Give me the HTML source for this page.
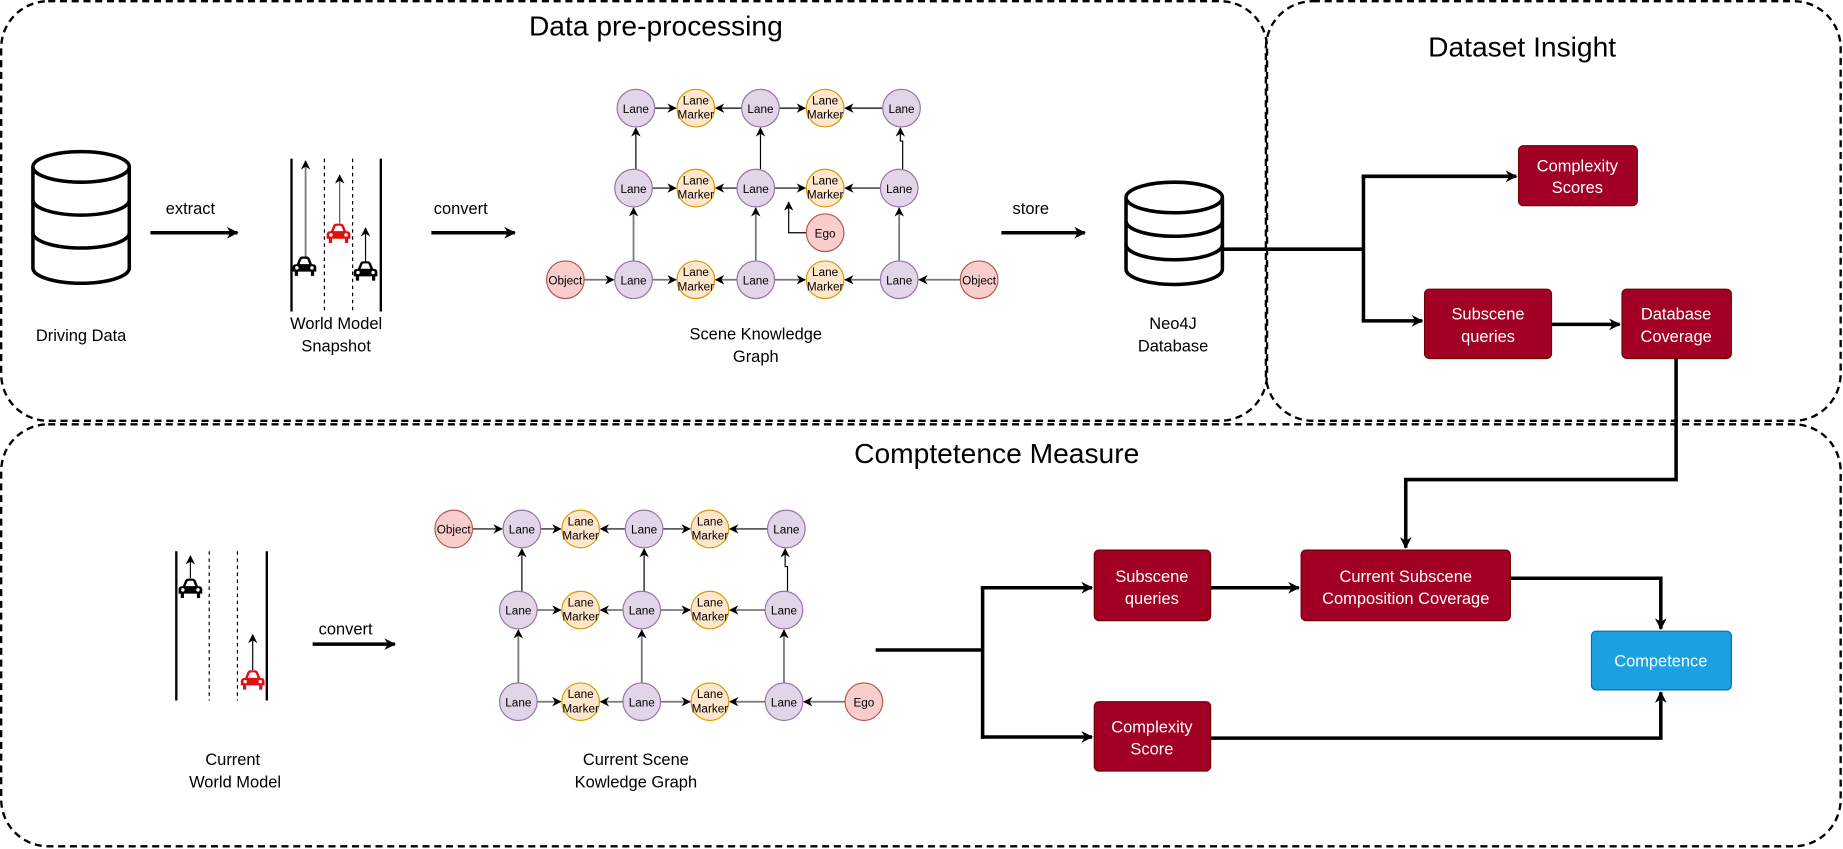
<!DOCTYPE html>
<html><head><meta charset="utf-8"><style>
html,body{margin:0;padding:0;background:#fff;}
svg{display:block;font-family:"Liberation Sans",Arial,sans-serif;}
</style></head><body>
<svg width="1843" height="849" viewBox="0 0 1568 722.3" xmlns="http://www.w3.org/2000/svg">
<defs>
<marker id="ab" viewBox="0 0 10 10" refX="9" refY="5" markerWidth="8" markerHeight="8" orient="auto" markerUnits="userSpaceOnUse"><path d="M0,0 L10,5 L0,10 L3,5 z" fill="#000"/></marker>
<marker id="as" viewBox="0 0 10 10" refX="9" refY="5" markerWidth="10" markerHeight="10" orient="auto" markerUnits="userSpaceOnUse"><path d="M0,0 L10,5 L0,10 L3,5 z" fill="#000"/></marker>
<symbol id="car" viewBox="0 0 24 20"><path d="M5,8 L7,3 Q8,1 10,1 L14,1 Q16,1 17,3 L19,8 Q23,8 23,11 L23,15 L21,15 L21,19 L18,19 L18,15 L6,15 L6,19 L3,19 L3,15 L1,15 L1,11 Q1,8 5,8 Z M7.5,8 L16.5,8 L15,4 Q14.5,3 13.5,3 L10.5,3 Q9.5,3 9,4 Z"/><circle cx="5" cy="11.5" r="1.6" fill="#fff"/><circle cx="19" cy="11.5" r="1.6" fill="#fff"/></symbol>
</defs>

<g fill="none" stroke="#000" stroke-width="2" stroke-dasharray="6,4">
<rect x="1" y="1" width="1077" height="357" rx="40"/>
<rect x="1077" y="1" width="489" height="357" rx="40"/>
<rect x="1" y="361" width="1565" height="359" rx="40"/>
</g>
<g font-size="24" text-anchor="middle" fill="#000">
<text x="558" y="30">Data pre-processing</text>
<text x="1295" y="48">Dataset Insight</text>
<text x="848" y="394">Comptetence Measure</text>
</g>

<g fill="#fff" stroke="#000" stroke-width="3">
<path d="M28,142 L28,228 A41,13 0 0 0 110,228 L110,142"/>
<ellipse cx="69" cy="142" rx="41" ry="13"/>
<path d="M28,170 A41,13 0 0 0 110,170 M28,198 A41,13 0 0 0 110,198" fill="none"/>
<path d="M958,168 L958,229 A41,13 0 0 0 1040,229 L1040,168"/>
<ellipse cx="999" cy="168" rx="41" ry="13"/>
<path d="M958,188 A41,13 0 0 0 1040,188 M958,208 A41,13 0 0 0 1040,208" fill="none"/>
</g>
<g font-size="14" text-anchor="middle">
<text x="69" y="290">Driving Data</text>
<text x="286" y="280">World Model</text><text x="286" y="299">Snapshot</text>
<text x="643" y="289">Scene Knowledge</text><text x="643" y="308">Graph</text>
<text x="998" y="280">Neo4J</text><text x="998" y="299">Database</text>
<text x="198" y="651">Current</text><text x="200" y="670">World Model</text>
<text x="541" y="651">Current Scene</text><text x="541" y="670">Kowledge Graph</text>
<text x="162" y="182">extract</text>
<text x="392" y="182">convert</text>
<text x="877" y="182">store</text>
<text x="294" y="540">convert</text>
</g>
<g stroke="#000" stroke-width="3" fill="none">
<line x1="128" y1="198" x2="202" y2="198" marker-end="url(#as)"/>
<line x1="367" y1="198" x2="438" y2="198" marker-end="url(#as)"/>
<line x1="852" y1="198" x2="923" y2="198" marker-end="url(#as)"/>
<line x1="266" y1="548" x2="336" y2="548" marker-end="url(#as)"/>
</g>

<g stroke="#000">
<line x1="248" y1="135" x2="248" y2="265" stroke-width="2"/>
<line x1="324" y1="135" x2="324" y2="265" stroke-width="2"/>
<line x1="276" y1="135" x2="276" y2="265" stroke-dasharray="3,3"/>
<line x1="300" y1="135" x2="300" y2="265" stroke-dasharray="3,3"/>
<line x1="260" y1="220" x2="260" y2="137" stroke="#777" stroke-width="1.5" marker-end="url(#ab)"/>
<line x1="289" y1="190" x2="289" y2="149" stroke="#555" marker-end="url(#ab)"/>
<line x1="311" y1="224" x2="311" y2="194" marker-end="url(#ab)"/>
<line x1="162" y1="492" x2="162" y2="473" marker-end="url(#ab)"/>
<line x1="215" y1="570" x2="215" y2="540" marker-end="url(#ab)"/>
<line x1="150" y1="469" x2="150" y2="596" stroke-width="2"/>
<line x1="227" y1="469" x2="227" y2="596" stroke-width="2"/>
<line x1="178" y1="469" x2="178" y2="596" stroke-dasharray="3,3"/>
<line x1="202" y1="469" x2="202" y2="596" stroke-dasharray="3,3"/>
</g>
<use href="#car" x="248" y="217" width="22" height="19" fill="#000"/>
<use href="#car" x="277" y="189" width="22" height="19" fill="#e01010"/>
<use href="#car" x="300" y="221" width="22" height="19" fill="#000"/>
<use href="#car" x="151" y="491" width="22" height="19" fill="#000"/>
<use href="#car" x="204" y="569" width="22" height="19" fill="#e01010"/>

<g stroke="#000" stroke-width="1" fill="none">
<line x1="557" y1="92" x2="575" y2="92" marker-end="url(#ab)"/>
<line x1="631" y1="92" x2="609" y2="92" marker-end="url(#ab)"/>
<line x1="663" y1="92" x2="685" y2="92" marker-end="url(#ab)"/>
<line x1="751" y1="92" x2="719" y2="92" marker-end="url(#ab)"/>
<line x1="555" y1="160" x2="575" y2="160" marker-end="url(#ab)"/>
<line x1="627" y1="160" x2="609" y2="160" marker-end="url(#ab)"/>
<line x1="659" y1="160" x2="685" y2="160" marker-end="url(#ab)"/>
<line x1="749" y1="160" x2="719" y2="160" marker-end="url(#ab)"/>
<line x1="541" y1="144" x2="541" y2="109" marker-end="url(#ab)"/>
<line x1="647" y1="144" x2="647" y2="109" marker-end="url(#ab)"/>
<polyline points="768,144 768,120 766,120 766,109" marker-end="url(#ab)"/>
<polyline points="686,198 671,198 671,172" marker-end="url(#ab)"/>
</g>
<g stroke="#777" stroke-width="1.5" fill="none">
<line x1="497" y1="238" x2="522" y2="238" marker-end="url(#ab)"/>
<line x1="555" y1="238" x2="575" y2="238" marker-end="url(#ab)"/>
<line x1="627" y1="238" x2="609" y2="238" marker-end="url(#ab)"/>
<line x1="659" y1="238" x2="685" y2="238" marker-end="url(#ab)"/>
<line x1="749" y1="238" x2="719" y2="238" marker-end="url(#ab)"/>
<line x1="817" y1="238" x2="782" y2="238" marker-end="url(#ab)"/>
<line x1="539" y1="222" x2="539" y2="177" marker-end="url(#ab)"/>
<line x1="643" y1="222" x2="643" y2="177" marker-end="url(#ab)"/>
<line x1="765" y1="222" x2="765" y2="177" marker-end="url(#ab)"/>
</g>

<g stroke="#000" stroke-width="1" fill="none">
<line x1="402" y1="450" x2="427" y2="450" marker-end="url(#ab)"/>
<line x1="460" y1="450" x2="477" y2="450" marker-end="url(#ab)"/>
<line x1="532" y1="450" x2="511" y2="450" marker-end="url(#ab)"/>
<line x1="564" y1="450" x2="587" y2="450" marker-end="url(#ab)"/>
<line x1="653" y1="450" x2="621" y2="450" marker-end="url(#ab)"/>
<line x1="444" y1="503" x2="444" y2="467" marker-end="url(#ab)"/>
<line x1="548" y1="503" x2="548" y2="467" marker-end="url(#ab)"/>
<polyline points="670,503 670,482 668,482 668,467" marker-end="url(#ab)"/>
</g>
<g stroke="#777" stroke-width="1.5" fill="none">
<line x1="457" y1="519" x2="477" y2="519" marker-end="url(#ab)"/>
<line x1="530" y1="519" x2="511" y2="519" marker-end="url(#ab)"/>
<line x1="562" y1="519" x2="587" y2="519" marker-end="url(#ab)"/>
<line x1="651" y1="519" x2="621" y2="519" marker-end="url(#ab)"/>
<line x1="457" y1="597" x2="477" y2="597" marker-end="url(#ab)"/>
<line x1="530" y1="597" x2="511" y2="597" marker-end="url(#ab)"/>
<line x1="562" y1="597" x2="587" y2="597" marker-end="url(#ab)"/>
<line x1="651" y1="597" x2="621" y2="597" marker-end="url(#ab)"/>
<line x1="719" y1="597" x2="684" y2="597" marker-end="url(#ab)"/>
<line x1="441" y1="581" x2="441" y2="536" marker-end="url(#ab)"/>
<line x1="546" y1="581" x2="546" y2="536" marker-end="url(#ab)"/>
<line x1="667" y1="581" x2="667" y2="536" marker-end="url(#ab)"/>
</g>

<g font-size="10" text-anchor="middle" stroke-width="1">
<g fill="#e1d5e7" stroke="#9673a6">
<circle cx="541" cy="92" r="16"/><circle cx="647" cy="92" r="16"/><circle cx="767" cy="92" r="16"/>
<circle cx="539" cy="160" r="16"/><circle cx="643" cy="160" r="16"/><circle cx="765" cy="160" r="16"/>
<circle cx="539" cy="238" r="16"/><circle cx="643" cy="238" r="16"/><circle cx="765" cy="238" r="16"/>
<circle cx="444" cy="450" r="16"/><circle cx="548" cy="450" r="16"/><circle cx="669" cy="450" r="16"/>
<circle cx="441" cy="519" r="16"/><circle cx="546" cy="519" r="16"/><circle cx="667" cy="519" r="16"/>
<circle cx="441" cy="597" r="16"/><circle cx="546" cy="597" r="16"/><circle cx="667" cy="597" r="16"/>
</g>
<g fill="#ffe6cc" stroke="#d79b00">
<circle cx="592" cy="92" r="16"/><circle cx="702" cy="92" r="16"/>
<circle cx="592" cy="160" r="16"/><circle cx="702" cy="160" r="16"/>
<circle cx="592" cy="238" r="16"/><circle cx="702" cy="238" r="16"/>
<circle cx="494" cy="450" r="16"/><circle cx="604" cy="450" r="16"/>
<circle cx="494" cy="519" r="16"/><circle cx="604" cy="519" r="16"/>
<circle cx="494" cy="597" r="16"/><circle cx="604" cy="597" r="16"/>
</g>
<g fill="#f8cecc" stroke="#b85450">
<circle cx="702" cy="198" r="16"/><circle cx="481" cy="238" r="16"/><circle cx="833" cy="238" r="16"/>
<circle cx="386" cy="450" r="16"/><circle cx="735" cy="597" r="16"/>
</g>
<g fill="#000">
<text x="541" y="96">Lane</text><text x="647" y="96">Lane</text><text x="767" y="96">Lane</text>
<text x="539" y="164">Lane</text><text x="643" y="164">Lane</text><text x="765" y="164">Lane</text>
<text x="539" y="242">Lane</text><text x="643" y="242">Lane</text><text x="765" y="242">Lane</text>
<text x="444" y="454">Lane</text><text x="548" y="454">Lane</text><text x="669" y="454">Lane</text>
<text x="441" y="523">Lane</text><text x="546" y="523">Lane</text><text x="667" y="523">Lane</text>
<text x="441" y="601">Lane</text><text x="546" y="601">Lane</text><text x="667" y="601">Lane</text>
<text x="702" y="202">Ego</text><text x="481" y="242">Object</text><text x="833" y="242">Object</text>
<text x="386" y="454">Object</text><text x="735" y="601">Ego</text>
<text x="592" y="89">Lane</text><text x="592" y="101">Marker</text>
<text x="702" y="89">Lane</text><text x="702" y="101">Marker</text>
<text x="592" y="157">Lane</text><text x="592" y="169">Marker</text>
<text x="702" y="157">Lane</text><text x="702" y="169">Marker</text>
<text x="592" y="235">Lane</text><text x="592" y="247">Marker</text>
<text x="702" y="235">Lane</text><text x="702" y="247">Marker</text>
<text x="494" y="447">Lane</text><text x="494" y="459">Marker</text>
<text x="604" y="447">Lane</text><text x="604" y="459">Marker</text>
<text x="494" y="516">Lane</text><text x="494" y="528">Marker</text>
<text x="604" y="516">Lane</text><text x="604" y="528">Marker</text>
<text x="494" y="594">Lane</text><text x="494" y="606">Marker</text>
<text x="604" y="594">Lane</text><text x="604" y="606">Marker</text>
</g>
</g>

<g stroke="#000" stroke-width="3" fill="none">
<line x1="1040" y1="212" x2="1160" y2="212"/>
<polyline points="1160,150 1160,273"/>
<line x1="1158.5" y1="150" x2="1290" y2="150" marker-end="url(#as)"/>
<line x1="1158.5" y1="273" x2="1210" y2="273" marker-end="url(#as)"/>
<line x1="1320" y1="276" x2="1378" y2="276" marker-end="url(#as)"/>
<polyline points="1426,305 1426,408 1196,408 1196,466" marker-end="url(#as)"/>
<polyline points="745,553 836,553"/>
<polyline points="836,498.5 836,628.5"/>
<line x1="834.5" y1="500" x2="929" y2="500" marker-end="url(#as)"/>
<line x1="834.5" y1="627" x2="929" y2="627" marker-end="url(#as)"/>
<line x1="1030" y1="500" x2="1105" y2="500" marker-end="url(#as)"/>
<polyline points="1285,492 1413,492 1413,535" marker-end="url(#as)"/>
<polyline points="1030,628 1413,628 1413,589" marker-end="url(#as)"/>
</g>

<g stroke="#6f0000" stroke-width="1" fill="#a20025">
<rect x="1292" y="124" width="101" height="51" rx="4"/>
<rect x="1212" y="246" width="108" height="59" rx="4"/>
<rect x="1380" y="246" width="93" height="59" rx="4"/>
<rect x="931" y="468" width="99" height="60" rx="4"/>
<rect x="1107" y="468" width="178" height="60" rx="4"/>
<rect x="931" y="597" width="99" height="59" rx="4"/>
</g>
<rect x="1354" y="537" width="119" height="50" rx="4" fill="#1ba1e2" stroke="#006eaf"/>
<g font-size="14" fill="#fff" text-anchor="middle">
<text x="1342" y="146">Complexity</text><text x="1342" y="164">Scores</text>
<text x="1266" y="272">Subscene</text><text x="1266" y="291">queries</text>
<text x="1426" y="272">Database</text><text x="1426" y="291">Coverage</text>
<text x="980" y="495">Subscene</text><text x="980" y="514">queries</text>
<text x="1196" y="495">Current Subscene</text><text x="1196" y="514">Composition Coverage</text>
<text x="980" y="623">Complexity</text><text x="980" y="642">Score</text>
<text x="1413" y="567">Competence</text>
</g>
</svg>
</body></html>
